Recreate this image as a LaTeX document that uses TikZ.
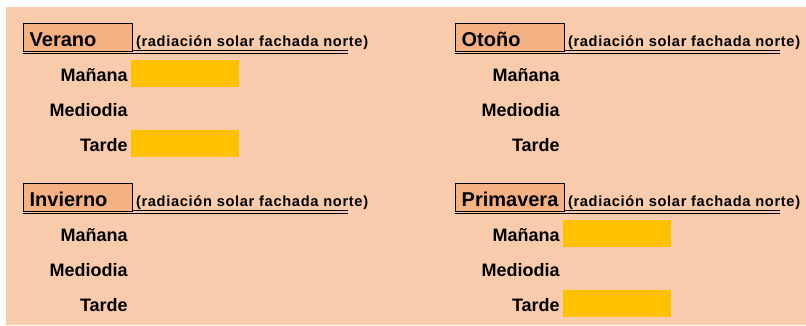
\documentclass[tikz,border=0pt]{standalone}
\usepackage{fontspec}
\setmainfont{Liberation Sans}
\newfontfamily\notefont[LetterSpace=4.5]{Liberation Sans}
\usetikzlibrary{positioning}
\definecolor{pagebg}{HTML}{F8CBAD}
\definecolor{headfill}{HTML}{F4B183}
\definecolor{sunbar}{HTML}{FFC000}

\begin{document}
\begin{tikzpicture}[x=0.75pt, y=-0.75pt,
    season/.style={draw, line width=1pt, fill=headfill, anchor=north west, inner xsep=4.5pt, inner ysep=0pt,
        text width=72.75pt, align=left, text height=16.9pt, text depth=4.1pt, font=\fontsize{15}{18}\selectfont\bfseries},
    note/.style={inner sep=0pt, font=\notefont\fontsize{11}{13}\selectfont\bfseries},
    slot/.style={anchor=base east, inner sep=0pt, font=\fontsize{13.5}{16}\selectfont\bfseries},
    sunbox/.style={fill=sunbar, anchor=north west, inner sep=0pt, minimum width=81pt, minimum height=20.25pt},
    rule/.style={double=pagebg, double distance=1.25pt, line width=0.75pt}]
    \useasboundingbox (0,0) rectangle (806,325);
    \fill[pagebg] (6,7) rectangle (806,325);

    % one block per season
    \foreach \name/\title/\ox/\oy/\sun in {verano/Verano/23/23/1, otono/Otoño/455/23/0,
                                          invierno/Invierno/23/183/0, primavera/Primavera/455/183/1} {
        \coordinate (\name a) at (\ox,\oy+29);
        \coordinate (\name b) at (\ox+325,\oy+29);
        \draw[rule] (\name a) -- (\name b);
        \node[season] (\name) at (\ox,\oy) {\title};
        \node[note, base right=1.8pt of \name] (\name note) {(radiación solar fachada norte)};

        \node[slot] (\name m) at (\ox+105,\oy+58.5) {Mañana};
        \node[slot] (\name d) at (\ox+105,\oy+93) {Mediodia};
        \node[slot] (\name t) at (\ox+105,\oy+128) {Tarde};

        \ifnum\sun=1
            \node[sunbox] (\name sunm) at (\ox+108,\oy+36.5) {};
            \node[sunbox] (\name sunt) at (\ox+108,\oy+106.5) {};
        \fi
    }
\end{tikzpicture}
\end{document}
